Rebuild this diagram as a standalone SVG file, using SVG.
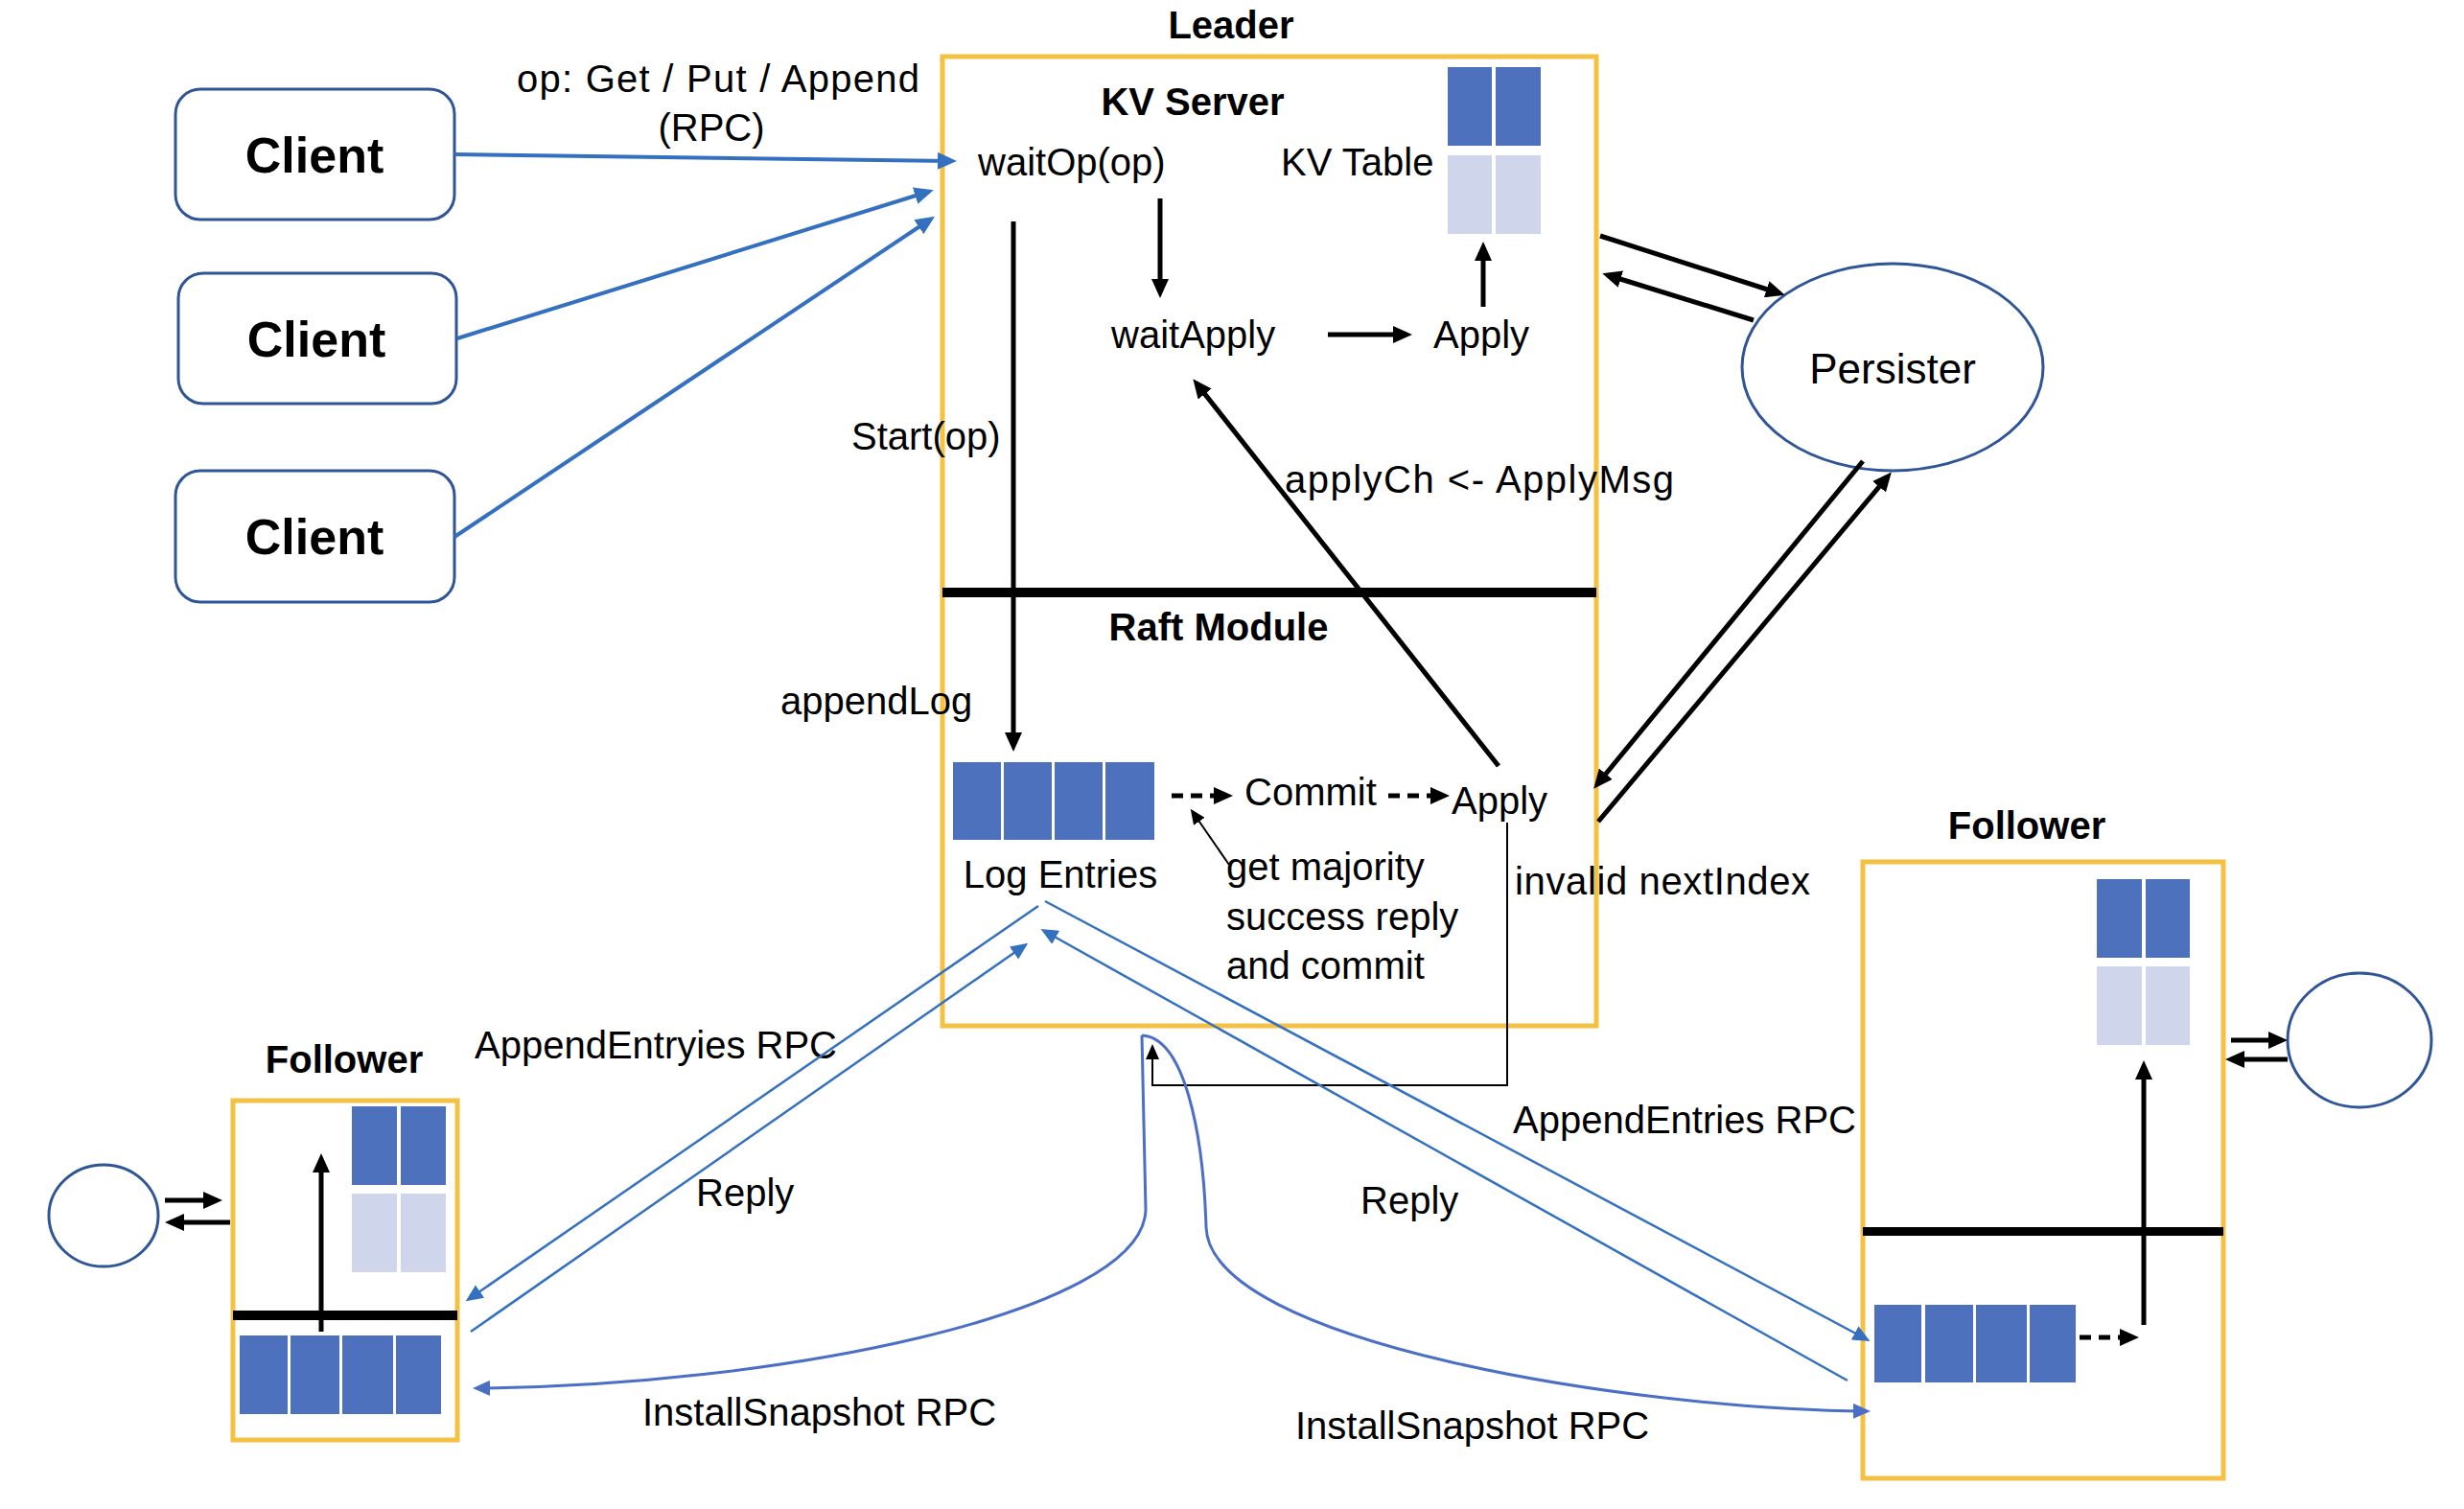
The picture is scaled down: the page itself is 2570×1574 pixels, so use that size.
<svg xmlns="http://www.w3.org/2000/svg" width="2570" height="1574" viewBox="0 0 2570 1574">
<style>
text{font-family:"Liberation Sans",Arial,sans-serif;font-size:40px;fill:#000}
.b{font-weight:bold}
.c{text-anchor:middle}
.cl{font-size:52px;font-weight:bold;text-anchor:middle}
.box{fill:none;stroke:#F5C142;stroke-width:5}
.bar{fill:#000}
.dk{fill:#4E71BD}
.lt{fill:#CFD5EA}
.cb{fill:#fff;stroke:#2F5597;stroke-width:3}
.k{stroke:#000;stroke-width:5;fill:none;marker-end:url(#ak)}
.kd{stroke:#000;stroke-width:5;fill:none;stroke-dasharray:12 8;marker-end:url(#ak)}
.kt{stroke:#000;stroke-width:2;fill:none;marker-end:url(#aks)}
.bl{stroke:#3470C0;stroke-width:4;fill:none;marker-end:url(#ab)}
.bt{stroke:#3470C0;stroke-width:2.5;fill:none;marker-end:url(#abs)}
.bc{stroke:#4A6FC4;stroke-width:3;fill:none;marker-end:url(#abc)}
</style>
<defs>
<marker id="ak" markerUnits="userSpaceOnUse" viewBox="0 0 20 18" markerWidth="20" markerHeight="18" refX="14" refY="9" orient="auto"><path d="M0,0 L20,9 L0,18 z" fill="#000"/></marker>
<marker id="aks" markerUnits="userSpaceOnUse" viewBox="0 0 16 14" markerWidth="16" markerHeight="14" refX="12" refY="7" orient="auto"><path d="M0,0 L16,7 L0,14 z" fill="#000"/></marker>
<marker id="ab" markerUnits="userSpaceOnUse" viewBox="0 0 20 18" markerWidth="20" markerHeight="18" refX="14" refY="9" orient="auto"><path d="M0,0 L20,9 L0,18 z" fill="#3470C0"/></marker>
<marker id="abs" markerUnits="userSpaceOnUse" viewBox="0 0 18 16" markerWidth="18" markerHeight="16" refX="14" refY="8" orient="auto"><path d="M0,0 L18,8 L0,16 z" fill="#3470C0"/></marker>
<marker id="abc" markerUnits="userSpaceOnUse" viewBox="0 0 18 16" markerWidth="18" markerHeight="16" refX="14" refY="8" orient="auto"><path d="M0,0 L18,8 L0,16 z" fill="#4A6FC4"/></marker>
</defs>
<rect width="2570" height="1574" fill="#fff"/>

<g id="client1"><rect class="cb" x="183" y="93" width="291" height="136" rx="26"/><text class="cl" x="328" y="180">Client</text></g>
<g id="client2"><rect class="cb" x="186" y="285" width="290" height="136" rx="26"/><text class="cl" x="330" y="372">Client</text></g>
<g id="client3"><rect class="cb" x="183" y="491" width="291" height="137" rx="26"/><text class="cl" x="328" y="578">Client</text></g>

<g id="leader">
<text class="b c" x="1284" y="40">Leader</text>
<rect class="box" x="983" y="59" width="682" height="1011"/>
<rect class="bar" x="983" y="613" width="682" height="10"/>
<text class="b c" x="1244" y="120">KV Server</text>
<text x="1020" y="183">waitOp(op)</text>
<text x="1336" y="183">KV Table</text>
<rect class="dk" x="1510" y="70" width="46" height="82"/><rect class="dk" x="1560" y="70" width="47" height="82"/>
<rect class="lt" x="1510" y="162" width="46" height="82"/><rect class="lt" x="1560" y="162" width="47" height="82"/>
<text x="1159" y="363">waitApply</text>
<text x="1495" y="363">Apply</text>
<text x="888" y="469">Start(op)</text>
<text x="1340" y="514" textLength="406" lengthAdjust="spacing">applyCh &lt;- ApplyMsg</text>
<text class="b c" x="1271" y="668">Raft Module</text>
<text x="814" y="745">appendLog</text>
<rect class="dk" x="994" y="795" width="50" height="81"/><rect class="dk" x="1047" y="795" width="50" height="81"/><rect class="dk" x="1100" y="795" width="50" height="81"/><rect class="dk" x="1153" y="795" width="51" height="81"/>
<text x="1298" y="840">Commit</text>
<text x="1514" y="849">Apply</text>
<text class="c" x="1106" y="926">Log Entries</text>
<text x="1279" y="918">get majority</text>
<text x="1279" y="970">success reply</text>
<text x="1279" y="1021">and commit</text>
<text x="1580" y="933" textLength="308" lengthAdjust="spacing">invalid nextIndex</text>
</g>

<g id="persister"><ellipse class="cb" cx="1974" cy="383" rx="157" ry="108"/><text class="c" style="font-size:44px" x="1974" y="400">Persister</text></g>

<g id="follower-right">
<text class="b c" x="2114" y="875">Follower</text>
<rect class="box" x="1943" y="899" width="376" height="643"/>
<rect class="bar" x="1943" y="1280" width="376" height="9"/>
<rect class="dk" x="2187" y="917" width="47" height="82"/><rect class="dk" x="2238" y="917" width="46" height="82"/>
<rect class="lt" x="2187" y="1008" width="47" height="82"/><rect class="lt" x="2238" y="1008" width="46" height="82"/>
<rect class="dk" x="1955" y="1361" width="49" height="81"/><rect class="dk" x="2008" y="1361" width="50" height="81"/><rect class="dk" x="2061" y="1361" width="53" height="81"/><rect class="dk" x="2117" y="1361" width="48" height="81"/>
</g>
<g id="persister-right"><ellipse class="cb" cx="2461" cy="1085" rx="75" ry="70"/></g>

<g id="follower-left">
<text class="b c" x="359" y="1119">Follower</text>
<rect class="box" x="243" y="1148" width="234" height="354"/>
<rect class="bar" x="243" y="1367" width="234" height="10"/>
<rect class="dk" x="367" y="1154" width="47" height="82"/><rect class="dk" x="418" y="1154" width="47" height="82"/>
<rect class="lt" x="367" y="1245" width="47" height="82"/><rect class="lt" x="418" y="1245" width="47" height="82"/>
<rect class="dk" x="250" y="1393" width="50" height="82"/><rect class="dk" x="303" y="1393" width="51" height="82"/><rect class="dk" x="357" y="1393" width="53" height="82"/><rect class="dk" x="413" y="1393" width="47" height="82"/>
</g>
<g id="persister-left"><ellipse class="cb" cx="108" cy="1268" rx="57" ry="53"/></g>

<g id="labels">
<text class="c" x="749" y="96" textLength="420" lengthAdjust="spacing">op: Get / Put / Append</text>
<text class="c" x="742" y="147">(RPC)</text>
<text x="495" y="1104">AppendEntryies RPC</text>
<text x="726" y="1258">Reply</text>
<text x="670" y="1487">InstallSnapshot RPC</text>
<text x="1578" y="1182">AppendEntries RPC</text>
<text x="1419" y="1266">Reply</text>
<text x="1351" y="1501">InstallSnapshot RPC</text>
</g>

<g id="connectors">
<line class="bl" x1="474" y1="161" x2="992" y2="168"/>
<line class="bl" x1="477" y1="353" x2="968" y2="200"/>
<line class="bl" x1="474" y1="560" x2="970" y2="229"/>
<line class="k" x1="1210" y1="207" x2="1210" y2="305"/>
<line class="k" x1="1385" y1="349" x2="1467" y2="349"/>
<line class="k" x1="1547" y1="320" x2="1547" y2="258"/>
<line class="k" x1="1563" y1="799" x2="1248" y2="400"/>
<line class="k" x1="1057" y1="231" x2="1057" y2="778"/>
<line class="kd" x1="1222" y1="830" x2="1280" y2="830"/>
<line class="kd" x1="1448" y1="830" x2="1506" y2="830"/>
<line class="kt" x1="1282" y1="902" x2="1244" y2="847"/>
<polyline class="kt" points="1572,858 1572,1132 1202,1132 1202,1093"/>
<line class="k" x1="1669" y1="246" x2="1856" y2="306"/>
<line class="k" x1="1829" y1="334" x2="1677" y2="287"/>
<line class="k" x1="1943" y1="481" x2="1666" y2="818"/>
<line class="k" x1="1667" y1="857" x2="1969" y2="497"/>
<line class="k" x1="2327" y1="1085" x2="2380" y2="1085"/>
<line class="k" x1="2386" y1="1105" x2="2327" y2="1105"/>
<line class="k" x1="2236" y1="1382" x2="2236" y2="1112"/>
<line class="kd" x1="2169" y1="1395" x2="2225" y2="1395"/>
<line class="k" x1="172" y1="1252" x2="226" y2="1252"/>
<line class="k" x1="240" y1="1275" x2="178" y2="1275"/>
<line class="k" x1="335" y1="1389" x2="335" y2="1209"/>
<line class="bt" x1="1083" y1="945" x2="489" y2="1355"/>
<line class="bt" x1="491" y1="1389" x2="1069" y2="986"/>
<line class="bt" x1="1090" y1="940" x2="1947" y2="1397"/>
<line class="bt" x1="1927" y1="1440" x2="1089" y2="971"/>
<path class="bc" d="M1191,1080 L1195,1262 C1192,1372 800,1446 497,1448"/>
<path class="bc" d="M1191,1080 C1235,1082 1255,1180 1258,1280 C1262,1400 1700,1470 1947,1472"/>
</g>
</svg>
